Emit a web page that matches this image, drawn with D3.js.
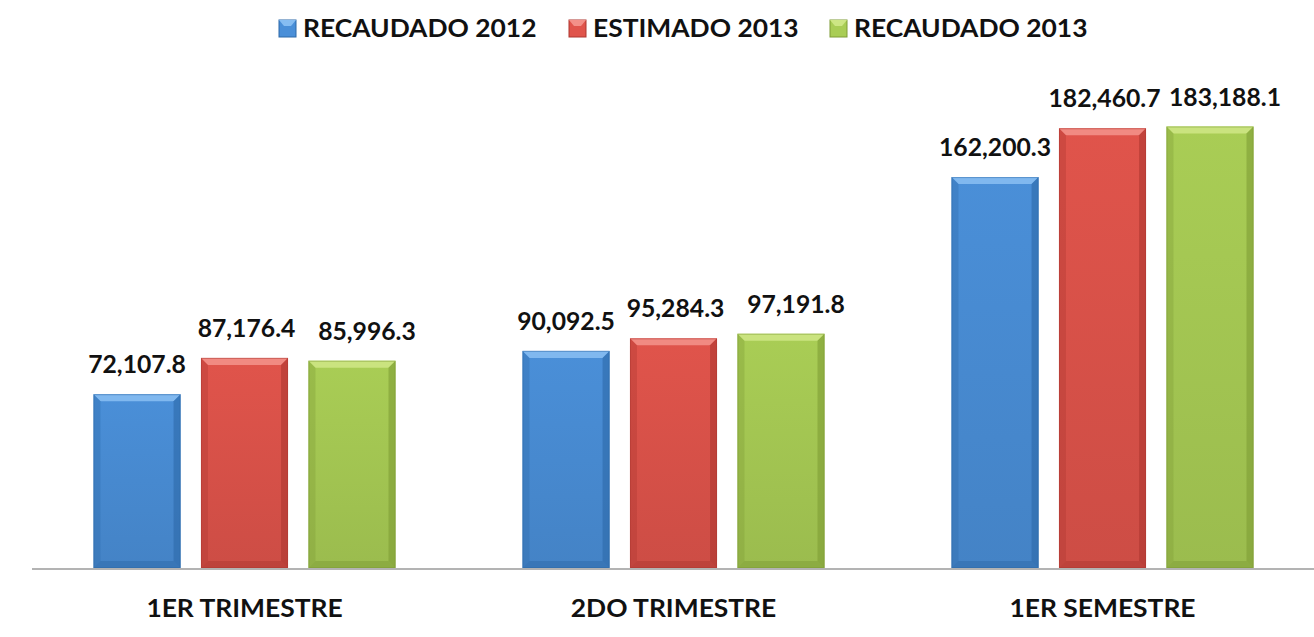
<!DOCTYPE html>
<html>
<head>
<meta charset="utf-8">
<script src="https://cdn.jsdelivr.net/npm/d3@7.9.0/dist/d3.min.js"></script>
<style>
  html, body { margin: 0; padding: 0; background: #fff; }
  svg { display: block; }
  text { font-family: Lato, "Open Sans", sans-serif; font-weight: bold; fill: #111; }
</style>
</head>
<body>
<svg id="chart" width="1314" height="637"></svg>
<script>
// data
const periods = ["1ER TRIMESTRE", "2DO TRIMESTRE", "1ER SEMESTRE"];
const seriesNames = ["RECAUDADO 2012", "ESTIMADO 2013", "RECAUDADO 2013"];
const recaudado2012 = [72107.8, 90092.5, 162200.3];
const estimado2013 = [87176.4, 95284.3, 182460.7];
const recaudado2013 = [85996.3, 97191.8, 183188.1];

const seriesValues = [recaudado2012, estimado2013, recaudado2013];

// colours per series: main, light (top bevel), dark (sides/bottom)
const palette = [
  { main: "#4a8fd8", light: "#86bdf2", dark: "#2d69a8" },
  { main: "#e0544b", light: "#f39088", dark: "#ad3731" },
  { main: "#a9cd55", light: "#cde684", dark: "#7e9c36" }
];

const W = 1314, H = 637;
const baseY = 568;
const svg = d3.select("#chart");

const x0 = d3.scaleBand().domain(periods).range([30, 1317]).paddingInner(0.296).paddingOuter(0.148);
const x1 = d3.scaleBand().domain(d3.range(seriesNames.length)).range([0, x0.bandwidth()]).paddingInner(0.19).paddingOuter(0);
const y = d3.scaleLinear().domain([0, 200000]).range([baseY, 86]);

const fmt = d3.format(",.1f");
const stretch = 1.1; // reference text is wide
const valStretch = 1.03;
const labelShift = [0, 2, 15]; // excel nudges the last label right to avoid overlap

// gradients
const defs = svg.append("defs");
palette.forEach((c, i) => {
  const g = defs.append("linearGradient").attr("id", "body" + i)
    .attr("x1", 0).attr("y1", 0).attr("x2", 0).attr("y2", 1);
  g.append("stop").attr("offset", "0%").attr("stop-color", c.main);
  g.append("stop").attr("offset", "100%").attr("stop-color", d3.color(c.main).darker(0.25));
});

// axis line
svg.append("line")
  .attr("x1", 32).attr("x2", W)
  .attr("y1", baseY + 1).attr("y2", baseY + 1)
  .attr("stroke", "#b3b3b3").attr("stroke-width", 2);

const rows = periods.map((p, i) => ({
  period: p,
  vals: seriesValues.map((s, k) => ({ k, v: s[i] }))
}));

const groups = svg.append("g").selectAll("g").data(rows).join("g")
  .attr("transform", d => `translate(${x0(d.period)},0)`);

const bev = 7;
const bars = groups.selectAll("g.bar").data(d => d.vals).join("g").attr("class", "bar");

bars.each(function (d) {
  const g = d3.select(this);
  const bx = x1(d.k), bw = x1.bandwidth();
  const top = y(d.v), h = baseY - top;
  const c = palette[d.k];
  g.append("rect").attr("x", bx).attr("y", top).attr("width", bw).attr("height", h)
    .attr("fill", `url(#body${d.k})`);
  // bevel: top light, sides and bottom dark
  g.append("path")
    .attr("d", `M${bx},${top}L${bx + bw},${top}L${bx + bw - bev},${top + bev}L${bx + bev},${top + bev}Z`)
    .attr("fill", c.light).attr("opacity", 0.9);
  g.append("path")
    .attr("d", `M${bx},${top}L${bx + bev},${top + bev}L${bx + bev},${baseY - bev}L${bx},${baseY}Z`)
    .attr("fill", c.dark).attr("opacity", 0.35);
  g.append("path")
    .attr("d", `M${bx + bw},${top}L${bx + bw - bev},${top + bev}L${bx + bw - bev},${baseY - bev}L${bx + bw},${baseY}Z`)
    .attr("fill", c.dark).attr("opacity", 0.6);
  g.append("path")
    .attr("d", `M${bx},${baseY}L${bx + bev},${baseY - bev}L${bx + bw - bev},${baseY - bev}L${bx + bw},${baseY}Z`)
    .attr("fill", c.dark).attr("opacity", 0.5);
  g.append("rect").attr("x", bx + 0.5).attr("y", top + 0.5).attr("width", bw - 1).attr("height", h - 1)
    .attr("fill", "none").attr("stroke", c.dark).attr("stroke-opacity", 0.5);

  // value label
  const cx = bx + bw / 2 + labelShift[d.k], ty = top - 21;
  g.append("text")
    .attr("text-anchor", "middle")
    .attr("font-size", 24)
    .attr("transform", `translate(${cx},${ty}) scale(${valStretch},1)`)
    .text(fmt(d.v));
});

// category labels
svg.append("g").selectAll("text").data(periods).join("text")
  .attr("text-anchor", "middle")
  .attr("font-size", 24)
  .attr("transform", d => `translate(${x0(d) + x0.bandwidth() / 2},${617}) scale(${stretch},1)`)
  .text(d => d);

// legend
const legendX = [279, 569, 830];
const leg = svg.append("g").selectAll("g").data(seriesNames).join("g")
  .attr("transform", (d, i) => `translate(${legendX[i]},20)`);
leg.append("rect").attr("width", 17).attr("height", 17)
  .attr("fill", (d, i) => palette[i].main)
  .attr("stroke", (d, i) => palette[i].dark).attr("stroke-width", 1);
leg.append("path").attr("d", "M0,0L17,0L12,6L5,6Z").attr("fill", (d, i) => palette[i].light);
leg.append("text")
  .attr("font-size", 24)
  .attr("transform", `translate(24,17) scale(${stretch},1)`)
  .text(d => d);
</script>
</body>
</html>
